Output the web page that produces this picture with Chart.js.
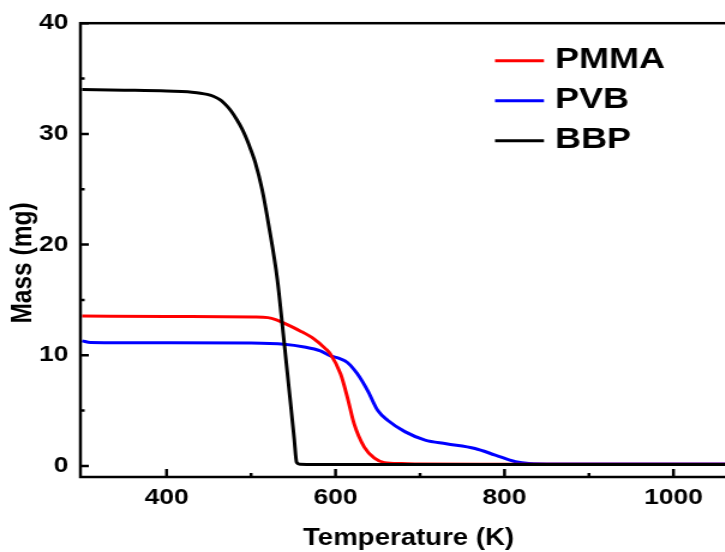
<!DOCTYPE html>
<html>
<head>
<meta charset="utf-8">
<script src="https://cdn.jsdelivr.net/npm/chart.js@4.4.1/dist/chart.umd.min.js"></script>
<style>
  html, body { margin: 0; padding: 0; background: #fff; overflow: hidden; }
  /* the reference figure is stretched sideways, so the canvas is too */
  #wrap { width: 624px; height: 552px; transform: scaleX(1.2); transform-origin: 0 0; }
</style>
</head>
<body>
<div id="wrap"><canvas id="tgaChart" width="624" height="552"></canvas></div>
<script>
// TGA curves: mass (mg) against temperature (K)
const seriesNames = ['PMMA', 'PVB', 'BBP'];
const seriesColors = ['#ff0000', '#0000ff', '#000000'];

const pmmaTemp = [300, 400, 503, 520, 530, 539, 558, 574, 588, 594, 606, 614, 622, 634, 646, 658, 678, 700, 800, 900, 1075];
const pmmaMass = [13.55, 13.5, 13.45, 13.4, 13.2, 12.9, 12.2, 11.5, 10.6, 10.1, 8.3, 6.2, 3.8, 1.7, 0.7, 0.3, 0.22, 0.18, 0.16, 0.15, 0.15];

const pvbTemp = [300, 310, 400, 500, 539, 563, 582, 594, 605, 614, 626, 638, 650, 662, 682, 706, 731, 765, 789, 813, 829, 860, 1000, 1075];
const pvbMass = [11.3, 11.15, 11.12, 11.1, 11.0, 10.75, 10.4, 9.95, 9.7, 9.35, 8.3, 6.8, 5.0, 4.1, 3.1, 2.33, 2.0, 1.58, 0.98, 0.38, 0.22, 0.18, 0.18, 0.18];

const bbpTemp = [300, 350, 400, 418, 430, 440, 448, 456, 464, 471, 477, 483, 489, 495, 500, 505, 513, 521, 531, 538, 546, 551, 554, 558, 600, 800, 1000, 1075];
const bbpMass = [34.0, 33.95, 33.88, 33.82, 33.76, 33.68, 33.57, 33.38, 33.05, 32.55, 32.0, 31.3, 30.5, 29.5, 28.5, 27.4, 25.0, 21.7, 16.9, 12.0, 6.2, 2.5, 0.3, 0.15, 0.12, 0.12, 0.12, 0.12];

const xTicks = [400, 600, 800, 1000];
const xMinorTicks = [500, 700, 900];
const yTicks = [0, 10, 20, 30, 40];
const yMinorTicks = [5, 15, 25, 35];

const fontFamily = '"Liberation Sans", Arial, sans-serif';

function toPoints(temps, masses) {
    return temps.map((t, i) => ({ x: t, y: masses[i] }));
}

const framePlugin = {
    id: 'frame',
    afterDatasetsDraw(chart) {
        const { ctx, chartArea: a, scales: { x, y } } = chart;
        ctx.save();
        ctx.strokeStyle = '#000';
        ctx.lineWidth = 2.5;
        ctx.strokeRect(a.left, a.top, a.right - a.left, a.bottom - a.top);

        // ticks point into the plot
        ctx.beginPath();
        xTicks.forEach(v => { const p = x.getPixelForValue(v); ctx.moveTo(p, a.bottom); ctx.lineTo(p, a.bottom - 8); });
        xMinorTicks.forEach(v => { const p = x.getPixelForValue(v); ctx.moveTo(p, a.bottom); ctx.lineTo(p, a.bottom - 4); });
        yTicks.forEach(v => { const p = y.getPixelForValue(v); ctx.moveTo(a.left, p); ctx.lineTo(a.left + 7, p); });
        yMinorTicks.forEach(v => { const p = y.getPixelForValue(v); ctx.moveTo(a.left, p); ctx.lineTo(a.left + 3.5, p); });
        ctx.stroke();

        // axis titles
        ctx.fillStyle = '#000';
        ctx.font = 'bold 23px ' + fontFamily;
        ctx.textAlign = 'center';
        ctx.textBaseline = 'alphabetic';
        ctx.fillText('Temperature (K)', (a.left + a.right) / 2, 545);

        ctx.save();
        ctx.translate(26.4, 263);
        ctx.rotate(-Math.PI / 2);
        ctx.font = 'bold 24.5px ' + fontFamily;
        ctx.fillText('Mass (mg)', 0, 0);
        ctx.restore();

        // legend
        ctx.font = 'bold 30px ' + fontFamily;
        ctx.textAlign = 'left';
        seriesNames.forEach((name, i) => {
            const yl = 60.7 + i * 40;
            ctx.strokeStyle = seriesColors[i];
            ctx.lineWidth = 3;
            ctx.beginPath();
            ctx.moveTo(412.5, yl);
            ctx.lineTo(453.3, yl);
            ctx.stroke();
            ctx.fillText(name, 462.5, 68.3 + i * 40);
        });
        ctx.restore();
    }
};

document.addEventListener('DOMContentLoaded', () => {
    const ctx = document.getElementById('tgaChart').getContext('2d');
    const tgaChart = new Chart(ctx, {
        type: 'line',
        data: {
            datasets: [
                { label: seriesNames[0], data: toPoints(pmmaTemp, pmmaMass), borderColor: seriesColors[0], order: 1 },
                { label: seriesNames[1], data: toPoints(pvbTemp, pvbMass), borderColor: seriesColors[1], order: 2 },
                { label: seriesNames[2], data: toPoints(bbpTemp, bbpMass), borderColor: seriesColors[2], order: 0 }
            ]
        },
        options: {
            responsive: false,
            animation: false,
            devicePixelRatio: 1,
            layout: { padding: { top: 19, right: 10, left: 0, bottom: 0 } },
            elements: {
                line: { borderWidth: 3, cubicInterpolationMode: 'monotone', fill: false },
                point: { radius: 0 }
            },
            plugins: { legend: { display: false }, tooltip: { enabled: false } },
            scales: {
                x: {
                    type: 'linear',
                    min: 298,
                    max: 1075,
                    grid: { display: false, drawTicks: false },
                    border: { display: false },
                    afterBuildTicks: scale => { scale.ticks = xTicks.map(v => ({ value: v })); },
                    afterFit: scale => { scale.height = 75; },
                    ticks: {
                        color: '#000', padding: 8, maxRotation: 0,
                        font: { family: fontFamily, size: 22, weight: 'bold' },
                        callback: v => String(v)
                    }
                },
                y: {
                    min: -1,
                    max: 40,
                    grid: { display: false, drawTicks: false },
                    border: { display: false },
                    afterBuildTicks: scale => { scale.ticks = yTicks.map(v => ({ value: v })); },
                    afterFit: scale => { scale.width = 67; },
                    ticks: {
                        color: '#000', padding: 10,
                        font: { family: fontFamily, size: 22, weight: 'bold' },
                        callback: v => String(v)
                    }
                }
            }
        },
        plugins: [framePlugin]
    });
});
</script>
</body>
</html>
